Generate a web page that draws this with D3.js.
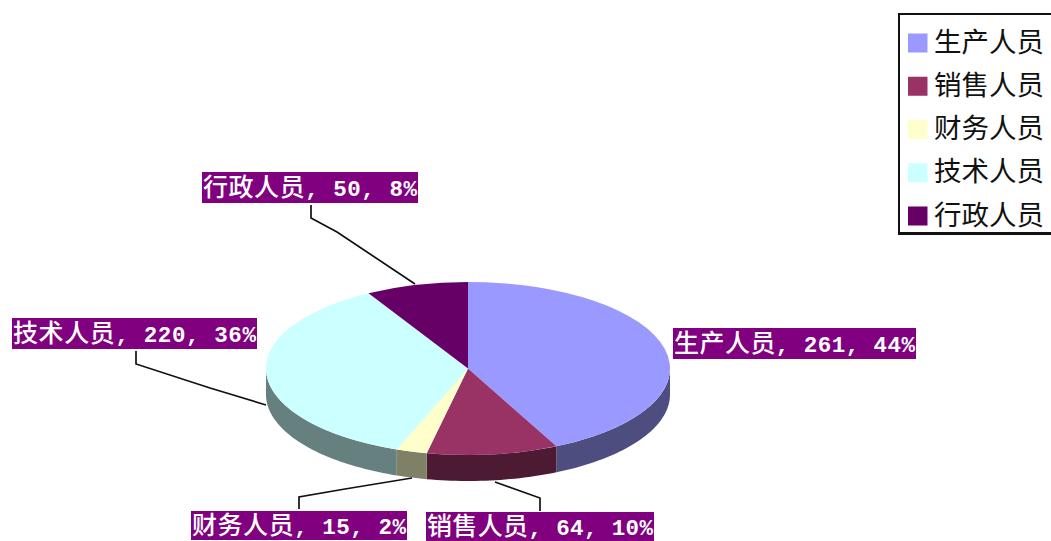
<!DOCTYPE html>
<html><head><meta charset="utf-8">
<script src="https://cdn.jsdelivr.net/npm/d3@7/dist/d3.min.js"></script>
<style>html,body{margin:0;padding:0;background:#fff;overflow:hidden}svg{display:block}</style>
</head><body><svg id="c" width="1051" height="541"></svg>
<script>
const categories = ["生产人员","销售人员","财务人员","技术人员","行政人员"];
const values = [261,64,15,220,50];
const percentLabels = ["44%","10%","2%","36%","8%"];
const colors = ["#9999FF","#993366","#FFFFCC","#CCFFFF","#660066"];
const sideColors = ["#4D4D80","#4D1A33","#808066","#668080","#330033"];

const cx=468, cy=368.5, rx=202, ry=86.5, depth=26;
const svg=d3.select("#c");
const pie=d3.pie().sort(null).value(d=>d)(values);

// side wall, front half only
const front=[Math.PI/2,Math.PI*1.5];
const px=a=>cx+rx*Math.sin(a), py=a=>cy-ry*Math.cos(a);
const wall=d3.area().x(a=>px(a)).y0(a=>py(a)).y1(a=>py(a)+depth);
pie.forEach((s,i)=>{
  const a0=Math.max(s.startAngle,front[0]), a1=Math.min(s.endAngle,front[1]);
  if(a1<=a0) return;
  const n=Math.max(2,Math.ceil((a1-a0)*40));
  const as=d3.range(n+1).map(k=>a0+(a1-a0)*k/n);
  svg.append("path").attr("d",wall(as)).attr("fill",sideColors[i]);
});
// top face
const arc=d3.arc().innerRadius(0).outerRadius(rx);
const topFace=svg.append("g").attr("transform",`translate(${cx},${cy}) scale(1,${ry/rx})`);
topFace.selectAll("path").data(pie).join("path").attr("d",arc).attr("fill",(d,i)=>colors[i]);

// leader lines
const leaders=[
 null,
 [[540,511],[540,498],[495,482]],
 [[299,509],[299,497],[345,489],[412,478]],
 [[136,351],[136,364],[210,388],[266,405]],
 [[311,205],[311,218],[337,232],[415,284]]
];
const line=d3.line();
leaders.forEach(p=>{ if(p) svg.append("path").attr("d",line(p)).attr("fill","none").attr("stroke","#111").attr("stroke-width",1.7);});

// data labels
const boxes=[[673,328,243,31],[426,512,228,29],[191,511,216,29],[12,318,245,31],[202,172,216,31]];
categories.forEach((c,i)=>{
  const [x,y,w,h]=boxes[i];
  svg.append("rect").attr("x",x).attr("y",y).attr("width",w).attr("height",h).attr("fill","#800080");
  const t=svg.append("text").attr("x",x+1).attr("y",y+h/2+8.5).attr("fill","#fff")
    .attr("textLength",w-2).attr("lengthAdjust","spacing");
  t.append("tspan").attr("font-family","'Noto Sans CJK SC'").attr("font-size",25).attr("font-weight",500).text(c);
  t.append("tspan").attr("font-family","'Liberation Mono'").attr("font-size",22.5).attr("font-weight",700)
   .text(`, ${values[i]}, ${percentLabels[i]}`);
});

// legend
svg.append("rect").attr("x",899).attr("y",14).attr("width",160).attr("height",219)
  .attr("fill","#fff").attr("stroke","#111").attr("stroke-width",2);
svg.append("line").attr("x1",898).attr("x2",1051).attr("y1",233.5).attr("y2",233.5)
  .attr("stroke","#111").attr("stroke-width",3);
const rows=d3.scalePoint().domain(categories).range([43,216]);
categories.forEach((c,i)=>{
  svg.append("rect").attr("x",908).attr("y",rows(c)-9.5).attr("width",19.5).attr("height",19).attr("fill",colors[i]);
  svg.append("text").attr("x",934).attr("y",rows(c)+8.5).attr("font-family","'Noto Sans CJK SC'")
    .attr("font-size",27.5).attr("fill","#111").text(c);
});
</script></body></html>
